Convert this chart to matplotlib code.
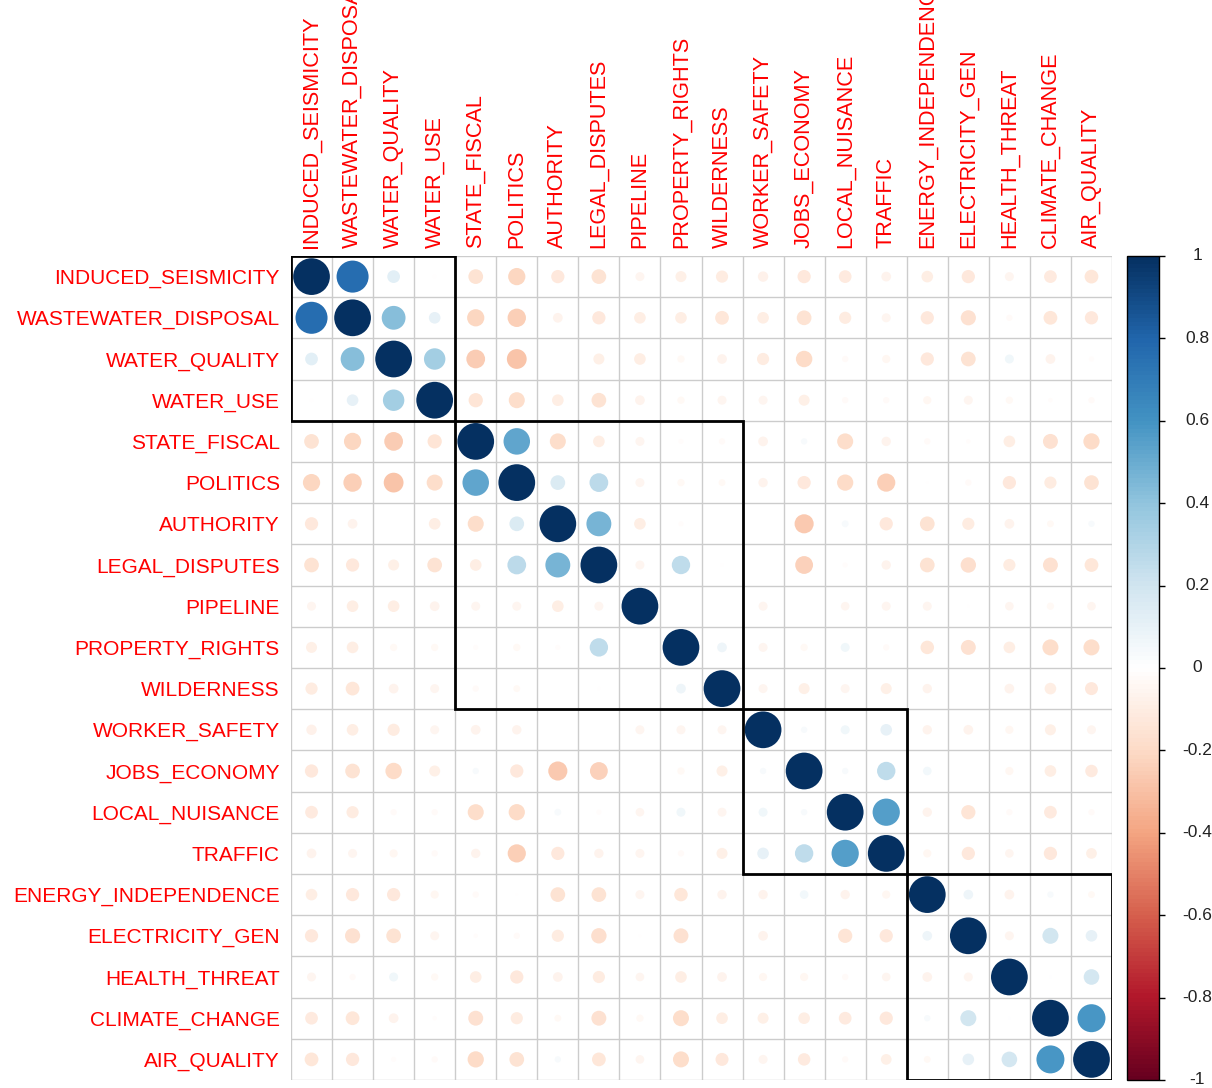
import numpy as np
import matplotlib
matplotlib.use("Agg")
import matplotlib.pyplot as plt
from matplotlib.colors import LinearSegmentedColormap
from matplotlib.patches import Rectangle

labels = ["INDUCED_SEISMICITY", "WASTEWATER_DISPOSAL", "WATER_QUALITY", "WATER_USE",
          "STATE_FISCAL", "POLITICS", "AUTHORITY", "LEGAL_DISPUTES", "PIPELINE",
          "PROPERTY_RIGHTS", "WILDERNESS", "WORKER_SAFETY", "JOBS_ECONOMY",
          "LOCAL_NUISANCE", "TRAFFIC", "ENERGY_INDEPENDENCE", "ELECTRICITY_GEN",
          "HEALTH_THREAT", "CLIMATE_CHANGE", "AIR_QUALITY"]

# upper triangle of the correlation matrix, row i holds columns i+1 .. 19
upper = [
    [0.76, 0.12, -0.01, -0.16, -0.22, -0.13, -0.16, -0.06, -0.09,
     -0.11, -0.08, -0.13, -0.12, -0.07, -0.10, -0.13, -0.06, -0.12, -0.14],
    [0.42, 0.10, -0.22, -0.25, -0.07, -0.13, -0.10, -0.10,
     -0.14, -0.10, -0.16, -0.11, -0.06, -0.13, -0.17, -0.03, -0.14, -0.13],
    [0.34, -0.26, -0.29, 0.00, -0.09, -0.10, -0.04,
     -0.07, -0.11, -0.20, -0.03, -0.05, -0.13, -0.16, 0.06, -0.07, -0.02],
    [-0.15, -0.19, -0.10, -0.16, -0.07, -0.04,
     -0.06, -0.06, -0.09, -0.03, -0.03, -0.05, -0.06, -0.04, -0.015, -0.03],
    [0.52, -0.19, -0.10, -0.06, -0.02,
     -0.03, -0.07, 0.03, -0.19, -0.065, -0.03, -0.015, -0.10, -0.165, -0.195],
    [0.16, 0.26, -0.06, -0.04,
     -0.035, -0.065, -0.13, -0.195, -0.245, -0.005, -0.03, -0.13, -0.11, -0.16],
    [0.46, -0.10, -0.02,
     0.00, 0.00, -0.27, 0.035, -0.13, -0.16, -0.11, -0.07, -0.035, 0.03],
    [-0.06, 0.25,
     -0.01, 0.00, -0.235, -0.02, -0.065, -0.16, -0.175, -0.11, -0.165, -0.14],
    [0.00,
     0.00, -0.06, 0.00, -0.055, -0.06, -0.06, -0.005, -0.055, -0.04, -0.055],
    [0.07, -0.06, -0.04, 0.06, -0.03, -0.135, -0.165, -0.10, -0.19, -0.19],
    [-0.06, -0.09, -0.06, -0.09, -0.065, 0.00, -0.07, -0.10, -0.125],
    [0.03, 0.06, 0.10, -0.065, -0.07, -0.05, -0.09, -0.06],
    [0.03, 0.25, 0.055, 0.00, -0.05, -0.10, -0.115],
    [0.55, -0.065, -0.15, -0.03, -0.12, -0.03],
    [-0.05, -0.13, -0.055, -0.13, -0.085],
    [0.07, -0.07, 0.03, -0.035],
    [-0.06, 0.19, 0.10],
    [0.005, 0.18],
    [0.58],
    [],
]

# hierarchical cluster sizes (rectangles)
cluster_sizes = [4, 7, 4, 5]
cbar_ticks = [1, 0.8, 0.6, 0.4, 0.2, 0, -0.2, -0.4, -0.6, -0.8, -1]

n = len(labels)
corr = np.eye(n)
for i, row in enumerate(upper):
    for k, v in enumerate(row):
        j = i + 1 + k
        corr[i, j] = v
        corr[j, i] = v

cmap = LinearSegmentedColormap.from_list(
    "col2", ["#67001F", "#B2182B", "#D6604D", "#F4A582", "#FDDBC7", "#FFFFFF",
             "#D1E5F0", "#92C5DE", "#4393C3", "#2166AC", "#053061"], N=200)

plt.rcParams['font.family'] = ['Liberation Sans', 'DejaVu Sans']

W, H = 1212, 1088
fig = plt.figure(figsize=(W / 100, H / 100), dpi=100)
ax = fig.add_axes([291 / W, 1 - 1080 / H, 821 / W, 824 / H])

# grid
for k in range(n + 1):
    ax.axhline(k, color="#CCCCCC", lw=1.0, zorder=1)
    ax.axvline(k, color="#CCCCCC", lw=1.0, zorder=1)

yy, xx = np.meshgrid(np.arange(n), np.arange(n), indexing="ij")
vals = corr.ravel()
ax.scatter(xx.ravel() + 0.5, yy.ravel() + 0.5, s=700 * np.abs(vals), c=vals,
           cmap=cmap, vmin=-1, vmax=1, linewidths=0, zorder=2)

start = 0
for size in cluster_sizes:
    ax.add_patch(Rectangle((start, start), size, size, fill=False,
                           edgecolor="black", lw=2.0, zorder=3))
    start += size

ax.set_xlim(0, n)
ax.set_ylim(n, 0)
for s in ax.spines.values():
    s.set_visible(False)

ax.set_yticks(np.arange(n) + 0.5)
ax.set_yticklabels(labels, color="red", fontsize=15)
ax.xaxis.tick_top()
ax.set_xticks(np.arange(n) + 0.5)
ax.set_xticklabels(labels, color="red", fontsize=15.6, rotation=90)
ax.tick_params(axis="y", length=0, pad=8)
ax.tick_params(axis="x", length=0, pad=6)

# colour legend
cax = fig.add_axes([1127 / W, 1 - 1080 / H, 32 / W, 824 / H])
sm = plt.cm.ScalarMappable(cmap=cmap, norm=plt.Normalize(-1, 1))
cb = fig.colorbar(sm, cax=cax, ticks=cbar_ticks)
cb.outline.set_linewidth(1.0)
cax.set_yticklabels([])
cax.tick_params(length=4.5, width=1)
for t in cbar_ticks:
    cax.text(2.19, t, f"{t:g}", transform=cax.get_yaxis_transform(),
             ha="center", va="center", fontsize=12.5, color="#222222")

fig.savefig("out.png", dpi=100)
